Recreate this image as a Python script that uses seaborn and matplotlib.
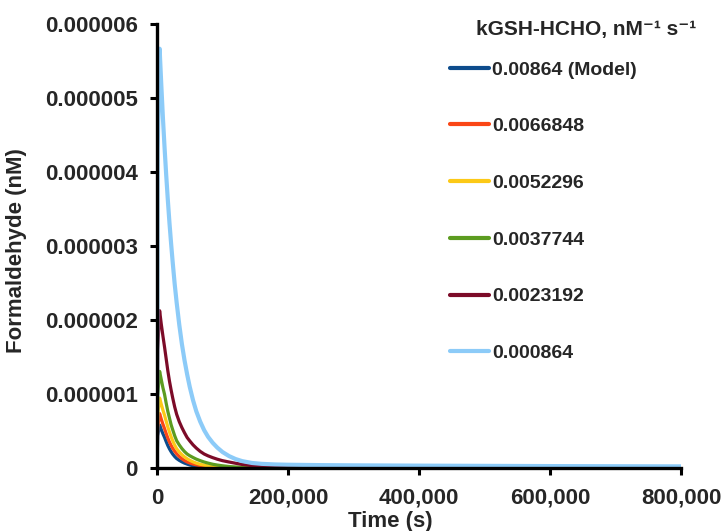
import numpy as np
import pandas as pd
import matplotlib
matplotlib.use("Agg")
import matplotlib.pyplot as plt
import seaborn as sns
from matplotlib.ticker import FuncFormatter
from matplotlib.lines import Line2D

# ---- data ----
time_s = [0, 1000, 4000, 6500, 9000, 11500, 14000, 16500, 19000, 21500, 24000,
          27000, 30000, 34000, 38000, 42000, 46000, 50000, 55000, 60000, 66000,
          72000, 78000, 85000, 92000, 100000, 110000, 120000, 130000, 145000,
          160000, 180000, 200000, 250000, 300000, 400000, 500000, 600000,
          700000, 800000]

series_labels = ["0.00864 (Model)", "0.0066848", "0.0052296",
                 "0.0037744", "0.0023192", "0.000864"]

# formaldehyde in units of 1e-6 nM
k_model = [0, 0.44, 0.585, 0.523, 0.468, 0.418, 0.361, 0.308, 0.263, 0.225, 0.192,
           0.159, 0.132, 0.107, 0.087, 0.070, 0.057, 0.045, 0.035, 0.026, 0.019,
           0.014, 0.010, 0.007, 0.005, 0.004, 0.0025, 0.0015, 0.001, 0.0007,
           0.0005, 0.0004, 0.0003, 0.0002, 0.0002, 0.0001, 0.0001, 0.0001,
           0.0001, 0.0001]
k_0066848 = [0, 0.55, 0.74, 0.665, 0.597, 0.536, 0.470, 0.409, 0.356, 0.310, 0.271,
             0.230, 0.196, 0.159, 0.129, 0.105, 0.086, 0.072, 0.058, 0.047, 0.036,
             0.028, 0.021, 0.016, 0.012, 0.009, 0.006, 0.004, 0.003, 0.002,
             0.0015, 0.001, 0.0008, 0.0005, 0.0004, 0.0003, 0.0002, 0.0002,
             0.0002, 0.0001]
k_0052296 = [0, 0.71, 0.95, 0.866, 0.788, 0.718, 0.637, 0.559, 0.490, 0.427, 0.371,
             0.313, 0.265, 0.221, 0.185, 0.154, 0.129, 0.108, 0.087, 0.070, 0.054,
             0.042, 0.032, 0.024, 0.018, 0.012, 0.008, 0.006, 0.004, 0.003,
             0.002, 0.0015, 0.001, 0.0008, 0.0006, 0.0005, 0.0004, 0.0003,
             0.0003, 0.0002]
k_0037744 = [0, 0.98, 1.31, 1.20, 1.09, 1.00, 0.88, 0.77, 0.68, 0.59, 0.52,
             0.44, 0.373, 0.316, 0.267, 0.226, 0.193, 0.170, 0.146, 0.124, 0.103,
             0.085, 0.070, 0.055, 0.044, 0.034, 0.024, 0.018, 0.014, 0.010,
             0.007, 0.005, 0.004, 0.003, 0.002, 0.0015, 0.001, 0.001,
             0.0008, 0.0006]
k_0023192 = [0, 1.6, 2.13, 1.95, 1.79, 1.64, 1.48, 1.32, 1.18, 1.06, 0.95,
             0.83, 0.73, 0.63, 0.55, 0.48, 0.416, 0.37, 0.317, 0.273, 0.228,
             0.193, 0.168, 0.144, 0.123, 0.103, 0.085, 0.068, 0.052, 0.036,
             0.025, 0.016, 0.011, 0.006, 0.004, 0.003, 0.002, 0.002,
             0.0015, 0.0015]
k_000864 = [0, 4.3, 5.67, 5.19, 4.74, 4.34, 3.97, 3.63, 3.32, 3.04, 2.78,
            2.49, 2.24, 1.94, 1.68, 1.46, 1.27, 1.10, 0.92, 0.77, 0.63,
            0.515, 0.425, 0.345, 0.28, 0.22, 0.165, 0.125, 0.097, 0.072,
            0.06, 0.052, 0.048, 0.043, 0.04, 0.036, 0.033, 0.03,
            0.028, 0.026]

all_series = [k_model, k_0066848, k_0052296, k_0037744, k_0023192, k_000864]
colors = ["#0d4c8c", "#fa4616", "#fcc917", "#5c9c20", "#7c0b28", "#8ccbf8"]

y_ticks = [0, 1e-6, 2e-6, 3e-6, 4e-6, 5e-6, 6e-6]
x_ticks = [0, 200000, 400000, 600000, 800000]

rows = []
for lab, vals in zip(series_labels, all_series):
    for t, v in zip(time_s, vals):
        rows.append({"Time": t, "HCHO": v * 1e-6, "k": lab})
df = pd.DataFrame(rows)

# ---- plot ----
sns.set_theme(style="white")
plt.rcParams["font.family"] = ["Liberation Sans", "DejaVu Sans"]

fig = plt.figure(figsize=(7.25, 5.31), dpi=100)
ax = fig.add_axes([157 / 725, 1 - 468.3 / 531, (681 - 157) / 725, (468.3 - 24.3) / 531])

sns.lineplot(data=df, x="Time", y="HCHO", hue="k", hue_order=series_labels,
             palette=colors, linewidth=2.3, ax=ax, legend=False, estimator=None)
for line in ax.lines:
    line.set_solid_capstyle("round")
    line.set_solid_joinstyle("round")
ax.lines[-1].set_linewidth(3.0)

ax.set_xlim(0, 800000)
ax.set_ylim(0, 6e-6)
ax.set_xticks(x_ticks)
ax.set_yticks(y_ticks)
ax.xaxis.set_major_formatter(FuncFormatter(lambda v, p: "0" if v == 0 else f"{int(v):,}"))
ax.yaxis.set_major_formatter(FuncFormatter(lambda v, p: "0" if v == 0 else f"{v:.6f}"))

for s in ["top", "right"]:
    ax.spines[s].set_visible(False)
for s in ["left", "bottom"]:
    ax.spines[s].set_linewidth(2.4)
    ax.spines[s].set_color("black")
ax.tick_params(axis="both", which="major", direction="out", length=5, width=2.2,
               color="black", labelsize=16, left=True, bottom=True)
ax.tick_params(axis="y", pad=9)
ax.tick_params(axis="x", pad=9)
for lbl in ax.get_xticklabels() + ax.get_yticklabels():
    lbl.set_fontweight("bold")

ax.set_xlabel("Time (s)", fontsize=16, fontweight="bold")
ax.xaxis.set_label_coords((390 - 157) / 524, (468.3 - 521) / 444)
ax.xaxis.label.set_va("center")
ax.set_ylabel("Formaldehyde (nM)", fontsize=16, fontweight="bold")
ax.yaxis.set_label_coords((17 - 157) / 524, (468.3 - 251) / 444)
ax.yaxis.label.set_va("center")

# legend
handles = [Line2D([0], [0], color=c, lw=3.0, solid_capstyle="round") for c in colors]
leg = fig.legend(handles, series_labels, loc="upper left",
                 bbox_to_anchor=(450 / 725, 1 - 61 / 531), frameon=False,
                 prop={"weight": "bold", "size": 14}, handlelength=2.0,
                 handletextpad=0.15, labelspacing=2.01, borderpad=0, borderaxespad=0)
fig.text(586 / 725, 1 - 29 / 531, "kGSH-HCHO, nM\u207b\u00b9 s\u207b\u00b9", ha="center",
         va="center", fontsize=15, fontweight="bold")

fig.savefig("out.png", dpi=100)
